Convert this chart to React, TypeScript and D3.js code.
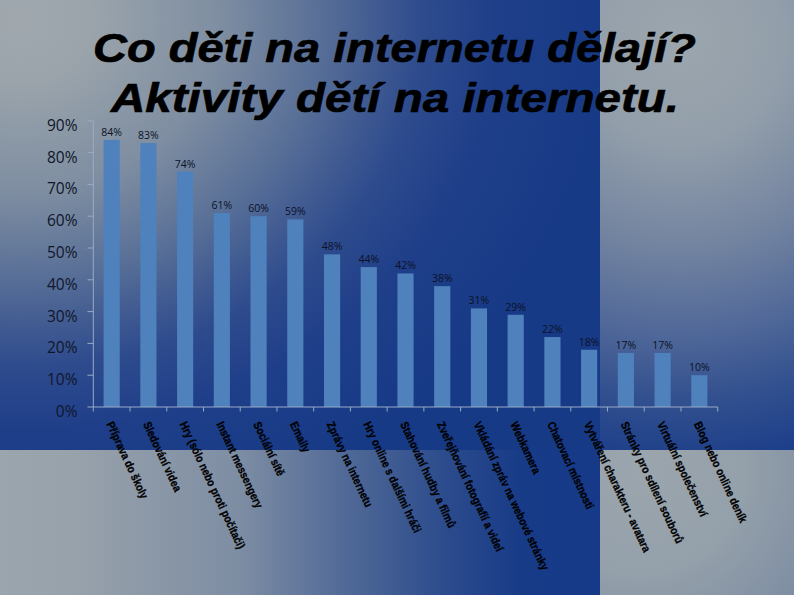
import React, { useEffect } from "react";
import * as d3 from "d3";

const categories = [
  "Příprava do školy",
  "Sledování videa",
  "Hry (sólo nebo proti počítači)",
  "Instant messengery",
  "Sociální sítě",
  "Emaily",
  "Zprávy na internetu",
  "Hry online s dalšími hráči",
  "Stahování hudby a filmů",
  "Zveřejňování fotografií a videí",
  "Vkládání zpráv na webové stránky",
  "Webkamera",
  "Chatovací místnosti",
  "Vytváření charakteru - avatara",
  "Stránky pro sdílení souborů",
  "Virtuální společenství",
  "Blog nebo online deník",
];
const values = [84, 83, 74, 61, 60, 59, 48, 44, 42, 38, 31, 29, 22, 18, 17, 17, 10];
const yTicks = [0, 10, 20, 30, 40, 50, 60, 70, 80, 90];
const titleLines = ["Co děti na internetu dělají?", "Aktivity dětí na internetu."];

const W = 794;
const H = 595;

export default function App() {
  useEffect(() => {
    document.body.style.margin = "0";
  }, []);

  const x = d3
    .scaleBand<string>()
    .domain(categories)
    .range([93.3, 717.7])
    .paddingInner(0.56)
    .paddingOuter(0.28);
  const y = d3.scaleLinear().domain([0, 90]).range([407, 120.8]);
  const step = x.step();
  const axisCol = "#9aaac6";

  return (
    <svg width={W} height={H} style={{ display: "block", position: "absolute", left: 0, top: 0 }}>
      <defs>
        <radialGradient
          id="gA"
          gradientUnits="userSpaceOnUse"
          cx={20}
          cy={20}
          r={600}
          gradientTransform="translate(20,20) scale(1,0.86) translate(-20,-20)"
        >
          <stop offset="0" stopColor="#a0a8ae" />
          <stop offset="0.12" stopColor="#9ba4ab" />
          <stop offset="0.25" stopColor="#8896a5" />
          <stop offset="0.33" stopColor="#7f8ea1" />
          <stop offset="0.5" stopColor="#586f97" />
          <stop offset="0.67" stopColor="#2e4b8d" />
          <stop offset="0.8" stopColor="#1e3e89" />
          <stop offset="1" stopColor="#173a86" />
        </radialGradient>
        <radialGradient id="gB" gradientUnits="userSpaceOnUse" cx={680} cy={40} r={420}>
          <stop offset="0" stopColor="#9ca6ad" />
          <stop offset="0.25" stopColor="#929eaa" />
          <stop offset="0.5" stopColor="#7283a0" />
          <stop offset="0.7" stopColor="#506899" />
          <stop offset="0.85" stopColor="#33518f" />
          <stop offset="1" stopColor="#1e3f8a" />
        </radialGradient>
        <linearGradient id="gC" gradientUnits="userSpaceOnUse" x1={0} y1={0} x2={600} y2={0}>
          <stop offset="0" stopColor="#9ba5ad" />
          <stop offset="0.12" stopColor="#98a2ab" />
          <stop offset="0.4" stopColor="#7d8da3" />
          <stop offset="0.58" stopColor="#4f6896" />
          <stop offset="0.75" stopColor="#2a4a8c" />
          <stop offset="0.87" stopColor="#183b88" />
          <stop offset="1" stopColor="#163a88" />
        </linearGradient>
        <radialGradient id="gD" gradientUnits="userSpaceOnUse" cx={640} cy={470} r={260}>
          <stop offset="0" stopColor="#9ba5ad" />
          <stop offset="0.4" stopColor="#94a0aa" />
          <stop offset="1" stopColor="#6f819e" />
        </radialGradient>
      </defs>

      <rect x={0} y={0} width={600} height={450} fill="url(#gA)" />
      <rect x={600} y={0} width={194} height={450} fill="url(#gB)" />
      <rect x={0} y={450} width={600} height={145} fill="url(#gC)" />
      <rect x={600} y={450} width={194} height={145} fill="url(#gD)" />

      {/* title */}
      <g
        fontFamily="'Liberation Sans', Arial, sans-serif"
        fontWeight="bold"
        fontStyle="italic"
        fontSize={41}
        fill="#000"
        stroke="#000"
        strokeWidth={0.7}
      >
        <text x={93} y={61.7} textLength={603} lengthAdjust="spacingAndGlyphs">
          {titleLines[0]}
        </text>
        <text x={111} y={111.7} textLength={568} lengthAdjust="spacingAndGlyphs">
          {titleLines[1]}
        </text>
      </g>

      {/* y axis */}
      <line x1={93.3} x2={93.3} y1={y(90)} y2={y(0)} stroke={axisCol} strokeWidth={1} />
      {yTicks.map((t) => (
        <g key={t}>
          <line x1={87.5} x2={93.3} y1={y(t)} y2={y(t)} stroke={axisCol} strokeWidth={1} />
          <text
            x={77.5}
            y={y(t) + 10}
            textAnchor="end"
            fontFamily="'Open Sans', sans-serif"
            fontSize={15.5}
            fill="#10162a"
          >
            {t + "%"}
          </text>
        </g>
      ))}

      {/* bars */}
      {categories.map((c, i) => (
        <rect
          key={c}
          x={x(c)!}
          y={y(values[i])}
          width={x.bandwidth()}
          height={y(0) - y(values[i])}
          fill="#4f81bd"
        />
      ))}

      {/* x axis */}
      <line x1={93.3} x2={717.7} y1={y(0)} y2={y(0)} stroke={axisCol} strokeWidth={1} />
      {d3.range(categories.length + 1).map((k) => (
        <line
          key={k}
          x1={93.3 + k * step}
          x2={93.3 + k * step}
          y1={y(0)}
          y2={y(0) + 4.5}
          stroke={axisCol}
          strokeWidth={1}
        />
      ))}

      {/* data labels */}
      {categories.map((c, i) => (
        <text
          key={c}
          x={x(c)! + x.bandwidth() / 2}
          y={y(values[i]) - 4}
          textAnchor="middle"
          fontFamily="'Open Sans', sans-serif"
          fontSize={10.5}
          fill="#0b1226"
        >
          {values[i] + "%"}
        </text>
      ))}

      {/* category labels */}
      {categories.map((c) => {
        const cx = x(c)! + x.bandwidth() / 2;
        return (
          <text
            key={c}
            transform={`translate(${cx - 5.5},${424}) rotate(65) scale(0.87,1)`}
            fontFamily="'Liberation Sans', Arial, sans-serif"
            fontWeight="bold"
            fontSize={11.5}
            fill="#000"
            stroke="#000"
            strokeWidth={0.3}
          >
            {c}
          </text>
        );
      })}
    </svg>
  );
}
